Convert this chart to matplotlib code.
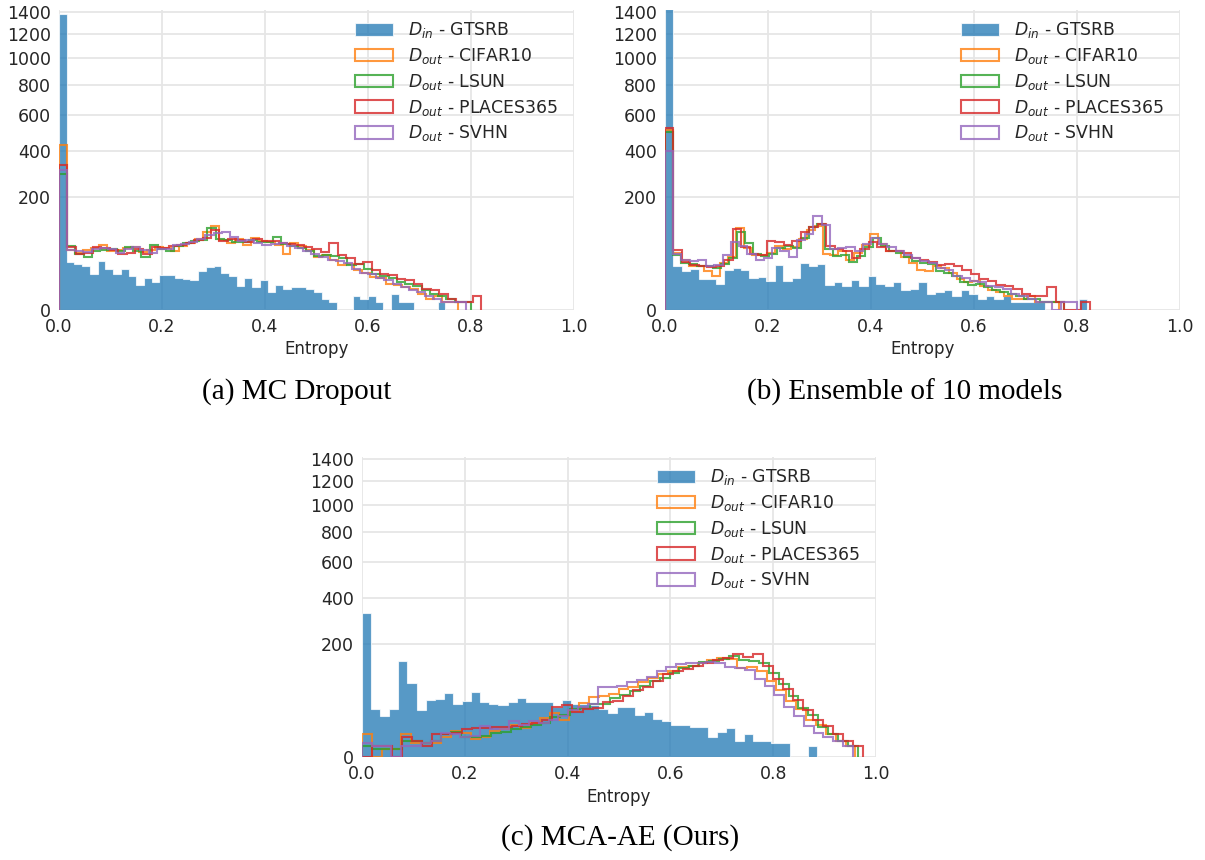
import numpy as np
import matplotlib
matplotlib.use("Agg")
import matplotlib.pyplot as plt

plt.rcParams["font.family"] = ["DejaVu Sans"]
plt.rcParams["text.color"] = "#262626"
plt.rcParams["axes.labelcolor"] = "#262626"
plt.rcParams["xtick.color"] = "#262626"
plt.rcParams["ytick.color"] = "#262626"

# ---------------- data: per-bin counts (50 equal bins from 0 to each series' max) ----------------
series_labels = [r"$D_{in}$ - GTSRB", r"$D_{out}$ - CIFAR10", r"$D_{out}$ - LSUN",
                 r"$D_{out}$ - PLACES365", r"$D_{out}$ - SVHN"]
panel_titles = ["(a) MC Dropout", "(b) Ensemble of 10 models", "(c) MCA-AE (Ours)"]
y_ticks = [0, 200, 400, 600, 800, 1000, 1200, 1400]
x_ticks = [0.0, 0.2, 0.4, 0.6, 0.8, 1.0]

# (a) MC Dropout
mc_max = [0.75, 0.775, 0.80, 0.82, 0.79]
mc_gtsrb = [1380, 36, 33, 30, 21, 38, 26, 21, 27, 18, 10, 16, 12, 19, 19, 16, 15, 14, 24, 29,
            31, 22, 18, 9, 16, 8, 14, 5, 10, 7, 8, 8, 7, 5, 2, 1, 0, 0, 3, 2,
            3, 1, 0, 4, 1, 1, 0, 0, 0, 1]
mc_cifar10 = [430, 57, 52, 57, 60, 66, 55, 57, 60, 62, 53, 57, 63, 61, 55, 64, 70, 80, 96, 112,
              78, 70, 80, 66, 82, 76, 72, 66, 50, 70, 64, 56, 44, 48, 40, 32, 34, 25, 22, 17,
              16, 11, 10, 8, 7, 4, 2, 3, 1, 1]
mc_lsun = [290, 65, 49, 45, 55, 57, 59, 55, 62, 54, 45, 67, 59, 55, 65, 70, 75, 77, 106, 80,
           78, 74, 72, 78, 74, 72, 84, 68, 64, 60, 54, 46, 48, 46, 42, 32, 33, 26, 21, 18,
           16, 12, 11, 9, 6, 4, 3, 2, 1, 1]
mc_places = [330, 62, 49, 52, 63, 60, 57, 49, 52, 59, 49, 62, 60, 65, 66, 71, 77, 82, 100, 76,
             80, 78, 74, 80, 76, 75, 71, 68, 66, 62, 58, 53, 70, 47, 42, 34, 36, 25, 21, 19,
             15, 14, 11, 7, 6, 4, 2, 1, 1, 3]
mc_svhn = [310, 57, 54, 53, 59, 61, 58, 52, 59, 62, 57, 52, 59, 59, 66, 68, 72, 79, 88, 94,
           97, 84, 76, 77, 71, 67, 68, 70, 64, 60, 55, 50, 44, 40, 38, 35, 27, 22, 20, 16,
           14, 11, 8, 6, 5, 3, 2, 1, 1, 1]

# (b) Ensemble of 10 models
ens_max = [0.82, 0.765, 0.775, 0.825, 0.80]
ens_gtsrb = [1450, 30, 24, 26, 15, 15, 11, 25, 28, 25, 16, 17, 13, 32, 13, 16, 35, 30, 34, 10,
             12, 9, 14, 9, 18, 11, 9, 12, 6, 7, 12, 4, 5, 6, 3, 6, 4, 2, 3, 2,
             3, 1, 1, 1, 1, 0, 0, 0, 0, 2]
ens_cifar10 = [510, 52, 40, 30, 30, 24, 18, 35, 44, 105, 60, 48, 48, 52, 65, 58, 62, 80, 100, 112,
               50, 48, 55, 40, 52, 66, 92, 68, 55, 55, 45, 35, 25, 24, 30, 28, 22, 15, 12, 13,
               9, 6, 5, 3, 2, 2, 3, 1, 1, 1]
ens_lsun = [500, 48, 35, 33, 30, 30, 28, 33, 42, 96, 70, 50, 46, 50, 60, 65, 60, 82, 108, 118,
            58, 46, 48, 36, 46, 62, 82, 64, 54, 52, 45, 38, 35, 33, 24, 22, 18, 12, 10, 11,
            8, 6, 5, 4, 3, 2, 2, 1, 1, 1]
ens_places = [520, 57, 36, 32, 31, 29, 30, 40, 104, 62, 50, 48, 76, 72, 66, 75, 95, 110, 118, 65,
              58, 55, 42, 58, 72, 62, 54, 55, 52, 42, 40, 36, 32, 34, 30, 25, 20, 15, 13, 10,
              9, 7, 4, 3, 3, 8, 1, 0, 0, 1]
ens_svhn = [400, 50, 40, 38, 40, 30, 32, 48, 72, 65, 50, 40, 43, 60, 55, 45, 78, 90, 140, 115,
            58, 60, 62, 55, 68, 82, 68, 62, 55, 48, 42, 38, 35, 28, 25, 18, 16, 13, 12, 9,
            8, 7, 4, 3, 2, 1, 1, 0, 1, 1]

# (c) MCA-AE (Ours)
mca_max = [0.885, 0.96, 0.965, 0.975, 0.955]
mca_gtsrb = [329, 37, 26, 37, 145, 87, 35, 52, 53, 65, 45, 49, 66, 47, 44, 42, 48, 55, 48, 47,
             48, 40, 52, 45, 45, 42, 36, 31, 40, 40, 28, 32, 23, 21, 16, 16, 14, 14, 6, 10,
             13, 4, 8, 4, 4, 3, 3, 0, 0, 2]
mca_cifar10 = [8, 0, 1, 1, 8, 3, 3, 3, 6, 11, 9, 5, 6, 11, 12, 16, 13, 18, 24, 30,
               22, 33, 46, 57, 58, 63, 72, 78, 88, 98, 110, 118, 128, 132, 140, 148, 155, 150, 125, 128,
               118, 92, 70, 50, 36, 22, 16, 8, 4, 2]
mca_lsun = [2, 1, 1, 1, 4, 4, 3, 4, 8, 10, 6, 6, 7, 9, 10, 12, 14, 16, 18, 25,
            28, 36, 38, 44, 44, 54, 60, 68, 80, 90, 98, 112, 125, 132, 142, 145, 150, 160, 148, 145,
            140, 112, 85, 58, 38, 28, 14, 8, 4, 2]
mca_places = [0, 2, 2, 0, 6, 4, 2, 8, 8, 9, 12, 13, 13, 14, 14, 15, 17, 18, 22, 40,
              42, 32, 36, 38, 48, 50, 58, 70, 78, 92, 108, 118, 122, 132, 140, 148, 155, 168, 158, 166,
              130, 95, 72, 52, 35, 22, 15, 8, 4, 2]
mca_svhn = [3, 2, 2, 0, 2, 2, 3, 4, 9, 8, 6, 7, 15, 12, 12, 21, 16, 20, 18, 22,
            26, 35, 40, 45, 77, 78, 79, 88, 93, 101, 118, 128, 135, 138, 140, 142, 140, 128, 125, 120,
            97, 80, 60, 40, 26, 15, 9, 6, 4, 2]

panels = [
    (mc_max, [mc_gtsrb, mc_cifar10, mc_lsun, mc_places, mc_svhn]),
    (ens_max, [ens_gtsrb, ens_cifar10, ens_lsun, ens_places, ens_svhn]),
    (mca_max, [mca_gtsrb, mca_cifar10, mca_lsun, mca_places, mca_svhn]),
]

colors = ["#1f77b4", "#ff7f0e", "#2ca02c", "#d62728", "#9467bd"]

W, H = 1205, 860
fig = plt.figure(figsize=(W / 100, H / 100), dpi=100)

# axes rectangles in pixels: left, bottom(y from top), width, height
rects_px = [(59, 310, 515, 300), (665, 310, 515, 300), (362, 757, 514, 300)]
caption_px = [(297, 392), (905, 392), (620, 838)]


def fwd(y):
    return np.sqrt(np.clip(y, 0, None))


def inv(y):
    return np.asarray(y) ** 2


for (maxes, counts_list), (lx, by, w, h), (cx, cy), title in zip(panels, rects_px, caption_px, panel_titles):
    ax = fig.add_axes([lx / W, 1 - by / H, w / W, h / H])
    ax.set_yscale("function", functions=(fwd, inv))
    ax.set_axisbelow(True)
    ax.grid(True, color="#e6e6e6", linewidth=1.3)
    for s in ax.spines.values():
        s.set_visible(False)

    for i, (mx, counts) in enumerate(zip(maxes, counts_list)):
        edges = np.linspace(0, mx, len(counts) + 1)
        centers = 0.5 * (edges[:-1] + edges[1:])
        if i == 0:
            ax.hist(centers, bins=edges, weights=counts, histtype="stepfilled", facecolor=colors[i],
                    alpha=0.75, edgecolor="white", linewidth=0.8, label=series_labels[i])
        else:
            ax.hist(centers, bins=edges, weights=counts, histtype="step", color=colors[i],
                    alpha=0.8, linewidth=1.5, label=series_labels[i])

    ax.set_xlim(0, 1)
    ax.set_ylim(0, 1420)
    ax.set_yticks(y_ticks)
    ax.set_xticks(x_ticks)
    ax.set_xticklabels([f"{t:.1f}" for t in x_ticks])
    ax.tick_params(axis="both", length=0, labelsize=12.5)
    ax.tick_params(axis="y", pad=6)
    ax.tick_params(axis="x", pad=6)
    ax.set_xlabel("Entropy", fontsize=12, labelpad=3)

    ax.legend(loc="upper right", bbox_to_anchor=(0.982, 0.988), frameon=False,
              fontsize=12.4, handlelength=2.2, handleheight=0.75, handletextpad=0.85,
              labelspacing=0.33, borderaxespad=0.0)

    fig.text(cx / W, 1 - cy / H, title, ha="center", va="center",
             fontsize=21, family="Liberation Serif", color="black")

fig.savefig("out.png", dpi=100)
